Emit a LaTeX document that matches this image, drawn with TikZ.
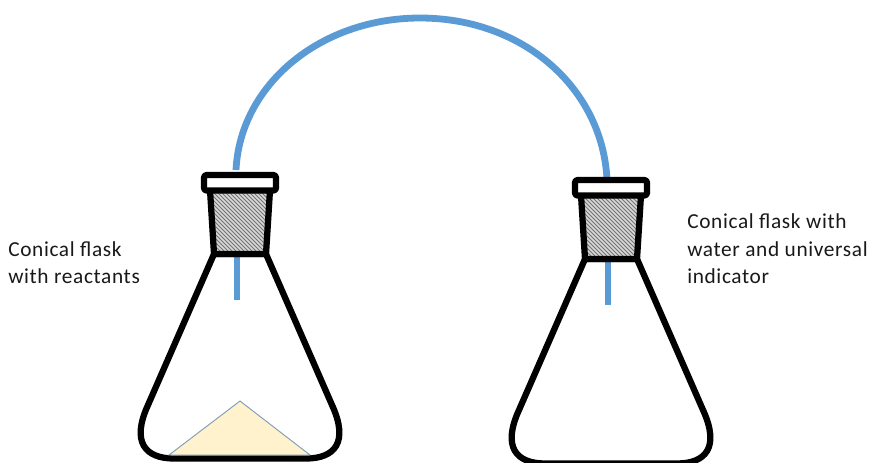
\documentclass[tikz,border=0pt]{standalone}
\usepackage{fontspec}
\setmainfont{Carlito}[LetterSpace=3]
\definecolor{tube}{HTML}{5B9BD5}
\definecolor{powder}{HTML}{FFF2CC}
\definecolor{powderline}{HTML}{7F9DB9}
\tikzset{
  glass/.style={draw=black,line width=4.7pt,line join=round},
  tubing/.style={draw=tube,line width=5.1pt},
  label/.style={anchor=north west,inner sep=0pt,align=left,text=black!90,font=\fontsize{16pt}{20.6pt}\selectfont}
}
\newcommand{\flask}[2]{%
  \begin{scope}[shift={(#1,#2)}]
    \draw[tubing] (237,250) -- (237,300);
    \draw[glass] (214,254) -- (148,405) .. controls (131,442) and (145,458.5) .. (174,458.5) -- (306,458.5) .. controls (335,458.5) and (349,442) .. (332,405) -- (266,254) -- cycle;
    \begin{scope}
      \clip (210,190) -- (270,190) -- (266,254) -- (214,254) -- cycle;
      \fill[black!55] (205,185) rectangle (275,260);
      \foreach \k in {0,4,...,140} {\draw[white!85!black,line width=1.2pt] (140+\k,185) -- (215+\k,260);}
    \end{scope}
    \draw[glass] (210,190) -- (270,190) -- (266,254) -- (214,254) -- cycle;
    \draw[glass,fill=white,rounded corners=2pt] (204,175) rectangle (276,190.5);
  \end{scope}}
\begin{document}
\begin{tikzpicture}[x=0.75pt,y=-0.75pt]
\useasboundingbox (0,0) rectangle (870,462);
\clip (0,0) rectangle (870,462);
\fill[white] (0,0) rectangle (870,462);
\draw[tubing] (236,170) .. controls (240,85) and (320,18) .. (420,18) .. controls (525,18) and (603,90) .. (607,180);
\flask{0}{0}
\flask{371}{5}
\fill[powder,draw=powderline,line width=0.7pt] (240,401) -- (310,455) -- (169,455) -- cycle;
\node[label] (leftlabel) at (8,241) {Conical flask\\with reactants};
\node[label] (rightlabel) at (687,213.5) {Conical flask with\\water and universal\\indicator};
\end{tikzpicture}
\end{document}
